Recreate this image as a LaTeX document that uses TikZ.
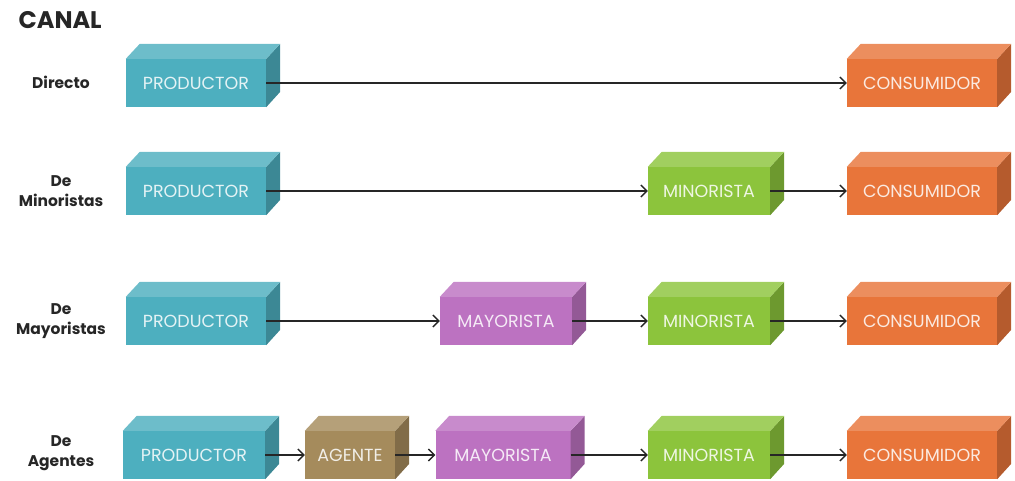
\documentclass[tikz,border=0pt]{standalone}
\usepackage{fontspec}
\setmainfont{Poppins}
\usetikzlibrary{arrows.meta}
\definecolor{colprod}{HTML}{4DAFBF}
\definecolor{colcons}{HTML}{E8753A}
\definecolor{colmin}{HTML}{8CC43C}
\definecolor{colmay}{HTML}{BC72C1}
\definecolor{colage}{HTML}{A58B5C}

\begin{document}
\begin{tikzpicture}[x=1pt, y=-1pt,
    caja/.style={fill=#1, minimum height=48pt, inner sep=0pt, text=white!85!#1, font=\fontsize{17.5}{17.5}\selectfont},
    etiqueta/.style={font=\bfseries\fontsize{15.5}{20}\selectfont, align=center, text=black!85},
    flecha/.style={-{Straight Barb[length=6pt,width=12pt]}, line width=1.3pt, draw=black!85}]
    \useasboundingbox (0,0) rectangle (1015,480);

    \node[anchor=west, font=\bfseries\fontsize{24}{24}\selectfont, text=black!85] (titulo) at (15,20) {CANAL};

    % etiquetas de cada canal
    \node[etiqueta] (l1) at (61,82) {Directo};
    \node[etiqueta] (l2) at (61,191) {De\\Minoristas};
    \node[etiqueta] (l3) at (61,321) {De\\Mayoristas};
    \node[etiqueta] (l4) at (61,453) {De\\Agentes};

    % canal directo
    \node[caja=colprod, minimum width=140pt] (prod1) at (196,83) {PRODUCTOR};
    \node[caja=colcons, minimum width=150pt] (cons1) at (922,83) {CONSUMIDOR};
    % canal de minoristas
    \node[caja=colprod, minimum width=140pt] (prod2) at (196,191) {PRODUCTOR};
    \node[caja=colmin, minimum width=122pt] (min2) at (709,191) {MINORISTA};
    \node[caja=colcons, minimum width=150pt] (cons2) at (922,191) {CONSUMIDOR};
    % canal de mayoristas
    \node[caja=colprod, minimum width=140pt] (prod3) at (196,321) {PRODUCTOR};
    \node[caja=colmay, minimum width=132pt] (may3) at (506,321) {MAYORISTA};
    \node[caja=colmin, minimum width=122pt] (min3) at (709,321) {MINORISTA};
    \node[caja=colcons, minimum width=150pt] (cons3) at (922,321) {CONSUMIDOR};
    % canal de agentes
    \node[caja=colprod, minimum width=142pt] (prod4) at (194,455) {PRODUCTOR};
    \node[caja=colage, minimum width=90pt] (age4) at (350,455) {AGENTE};
    \node[caja=colmay, minimum width=135pt] (may4) at (503,455) {MAYORISTA};
    \node[caja=colmin, minimum width=122pt] (min4) at (709,455) {MINORISTA};
    \node[caja=colcons, minimum width=150pt] (cons4) at (922,455) {CONSUMIDOR};

    % caras superior y lateral
    \foreach \n/\c in {prod1/colprod, cons1/colcons, prod2/colprod, min2/colmin, cons2/colcons,
                       prod3/colprod, may3/colmay, min3/colmin, cons3/colcons,
                       prod4/colprod, age4/colage, may4/colmay, min4/colmin, cons4/colcons} {
      \fill[\c!78!black] (\n.north east) -- ++(14pt,15pt) -- ++(0pt,-48pt) -- (\n.south east) -- cycle;
      \fill[\c!82!white] (\n.north west) -- ++(14pt,15pt) -- ([shift={(14pt,15pt)}]\n.north east) -- (\n.north east) -- cycle;
    }

    \draw[flecha] (prod1) -- (cons1);
    \draw[flecha] (prod2) -- (min2);
    \draw[flecha] (min2) -- (cons2);
    \draw[flecha] (prod3) -- (may3);
    \draw[flecha] (may3) -- (min3);
    \draw[flecha] (min3) -- (cons3);
    \draw[flecha] (prod4) -- (age4);
    \draw[flecha] (age4) -- (may4);
    \draw[flecha] (may4) -- (min4);
    \draw[flecha] (min4) -- (cons4);
\end{tikzpicture}
\end{document}
